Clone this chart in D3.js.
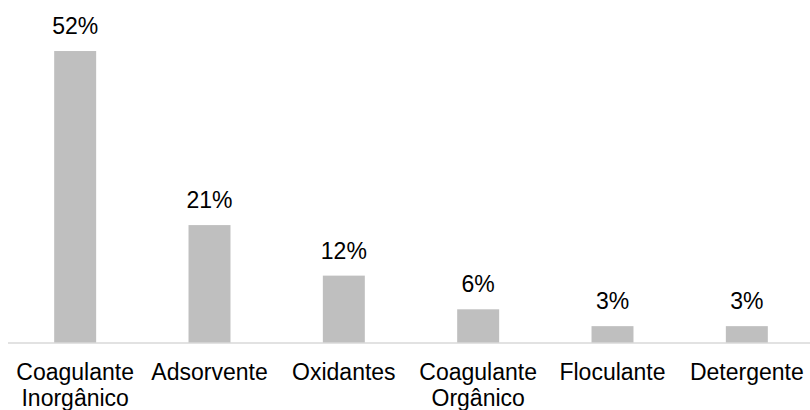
<!DOCTYPE html>
<html>
<head>
<meta charset="utf-8">
<script src="https://cdn.jsdelivr.net/npm/d3@7/dist/d3.min.js"></script>
<style>
  html, body { margin: 0; padding: 0; background: #fff; }
  svg { display: block; }
  text { font-family: "Liberation Sans", Arial, sans-serif; fill: #000; }
</style>
</head>
<body>
<svg id="chart" width="810" height="410"></svg>
<script>
// Share of each product type (%)
const categories = [
  ["Coagulante", "Inorgânico"],
  ["Adsorvente"],
  ["Oxidantes"],
  ["Coagulante", "Orgânico"],
  ["Floculante"],
  ["Detergente"]
];
const values = [52, 21, 12, 6, 3, 3];
const valueLabels = ["52%", "21%", "12%", "6%", "3%", "3%"];

const svg = d3.select("#chart");
const baseY = 343;
const fontSize = 23;

const keys = categories.map(c => c.join(" "));
const x = d3.scaleBand().domain(keys).range([8, 814])
  .paddingInner(0.6875).paddingOuter(0.34375);
const y = d3.scaleLinear().domain([0, 60]).range([baseY, baseY - 60 * 5.615]);

// bars
svg.append("g").selectAll("rect")
  .data(values)
  .join("rect")
  .attr("x", (d, i) => x(keys[i]))
  .attr("y", d => y(d))
  .attr("width", x.bandwidth())
  .attr("height", d => y(0) - y(d))
  .attr("fill", "#bfbfbf");

// baseline
svg.append("line")
  .attr("x1", 8).attr("x2", 810)
  .attr("y1", baseY).attr("y2", baseY)
  .attr("stroke", "#d9d9d9").attr("stroke-width", 1.5);

// value labels
svg.append("g").selectAll("text")
  .data(values)
  .join("text")
  .attr("x", (d, i) => x(keys[i]) + x.bandwidth() / 2)
  .attr("y", d => y(d) - 17)
  .attr("text-anchor", "middle")
  .style("font-size", fontSize + "px")
  .text((d, i) => valueLabels[i]);

// category labels (wrapped)
const cat = svg.append("g").selectAll("g")
  .data(categories)
  .join("g")
  .attr("transform", (d, i) => `translate(${x(keys[i]) + x.bandwidth() / 2},0)`);
cat.selectAll("text")
  .data(d => d)
  .join("text")
  .attr("x", 0)
  .attr("y", (d, j) => 380 + j * 25.5)
  .attr("text-anchor", "middle")
  .style("font-size", fontSize + "px")
  .text(d => d);
</script>
</body>
</html>
